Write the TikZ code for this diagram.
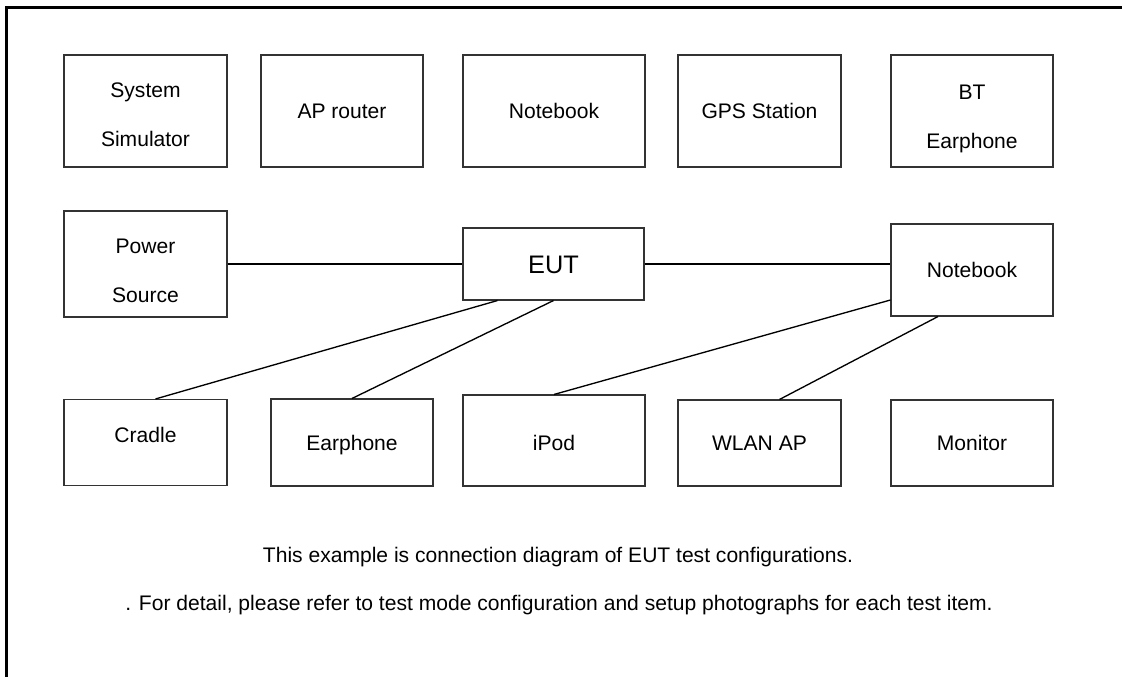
\documentclass[tikz,border=0pt]{standalone}
\usepackage{fontspec}
\setmainfont{Liberation Sans}
\usetikzlibrary{calc}

\tikzset{
  box/.style={draw=black!80, line width=0.8pt, align=center, inner sep=0pt,
    text height=11.3pt, text depth=0pt, font=\fontsize{15.8}{36.75}\selectfont},
  twoline/.style={text height=#1, text depth=0pt},
  wire/.style={line width=1pt},
  note/.style={anchor=base, font=\fontsize{15.8}{19}\selectfont},
}

\begin{document}
\begin{tikzpicture}[x=0.75pt,y=-0.75pt]
        \useasboundingbox (0,0) rectangle (1122,677);
        \draw[line width=2pt] (6.5,677) -- (6.5,7.5) -- (1122,7.5);

        \node[box, twoline=53.2pt, minimum width=122.25pt, minimum height=84pt] (sim) at (145.5,111) {System\\Simulator};
        \node[box, minimum width=121.5pt, minimum height=84pt] (ap) at (342,111) {AP router};
        \node[box, minimum width=136.5pt, minimum height=84pt] (nbtop) at (554,111) {Notebook};
        \node[box, minimum width=122.25pt, minimum height=84pt] (gps) at (759.5,111) {GPS Station};
        \node[box, twoline=56.2pt, minimum width=121.5pt, minimum height=84pt] (bt) at (972,111) {BT\\Earphone};

        \node[box, twoline=57.8pt, minimum width=122.25pt, minimum height=79.5pt] (psu) at (145.5,264) {Power\\Source};
        \node[box, text height=13.6pt, minimum width=135.75pt, minimum height=54pt, font=\fontsize{19}{23}\selectfont] (eut) at (553.5,264) {EUT};
        \node[box, minimum width=121.5pt, minimum height=69pt] (nb) at (972,270) {Notebook};

        \node[box, text depth=11.2pt, minimum width=122.25pt, minimum height=64.5pt] (cradle) at (145.5,442.5) {Cradle};
        \node[box, minimum width=121.5pt, minimum height=65.25pt] (earph) at (352,442.5) {Earphone};
        \node[box, text height=15.1pt, minimum width=136.5pt, minimum height=68.25pt] (ipod) at (554,440.5) {iPod};
        \node[box, minimum width=122.25pt, minimum height=64.5pt] (wlan) at (759.5,443) {WLAN AP};
        \node[box, minimum width=121.5pt, minimum height=64.5pt] (mon) at (972,443) {Monitor};

        \draw[wire] (psu.east) -- (eut.west);
        \draw[wire] (eut.east) -- (eut.east -| nb.west);
        \draw[wire] ($(eut.south)+(-56,0)$) -- ($(cradle.north)+(10,0)$);
        \draw[wire] (eut.south) -- (earph.north);
        \draw[wire] ($(nb.west)+(0,30)$) -- (ipod.north);
        \draw[wire] ($(nb.south)+(-34,0)$) -- ($(wlan.north)+(20,0)$);

        \node[note] (note1) at (558,562) {This example is connection diagram of EUT test configurations.};
        \node[note] (note2) at (559,610) {. For detail, please refer to test mode configuration and setup photographs for each test item.};
\end{tikzpicture}
\end{document}
